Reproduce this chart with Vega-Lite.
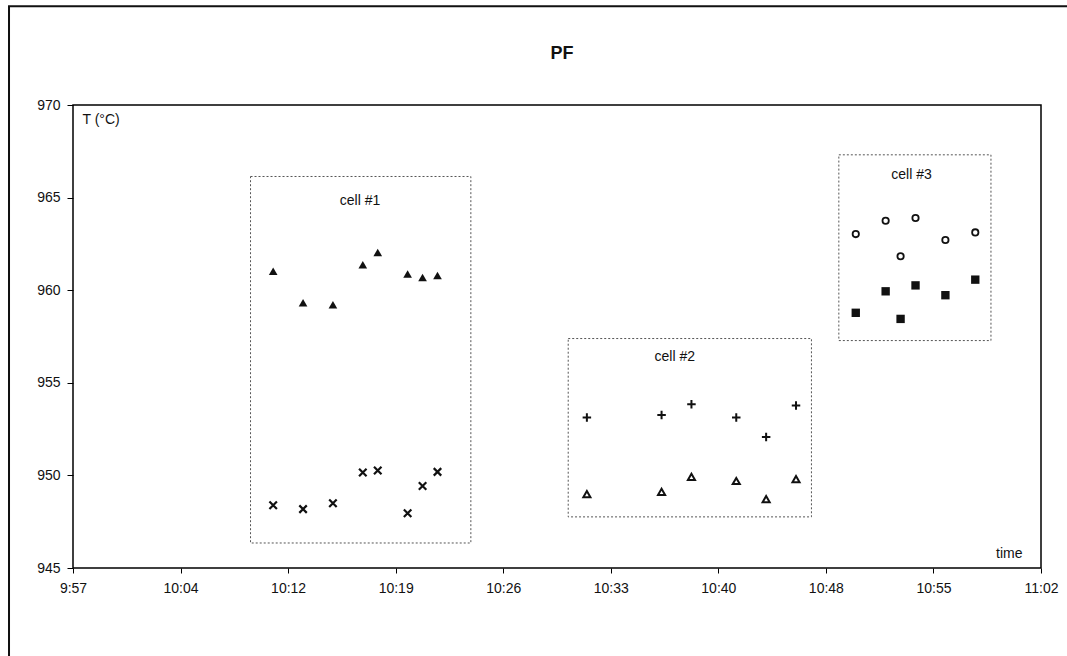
{
  "$schema": "https://vega.github.io/schema/vega-lite/v6.json",
  "width": 968,
  "height": 463,
  "autosize": {"type": "none"},
  "padding": {"left": 73, "top": 105, "right": 26, "bottom": 88},
  "background": "white",
  "title": {"text": "PF", "font": "Liberation Sans", "fontSize": 18, "fontWeight": "bold", "color": "#111", "offset": 0, "dy": 58, "dx": 5, "anchor": "middle", "frame": "group"},
  "config": {"view": {"stroke": "#000", "strokeWidth": 1.5}, "font": "Liberation Sans"},
  "datasets": {
    "points": [
      {"series": "a", "time": "2000-01-01T10:11:00Z", "T": 961.02},
      {"series": "a", "time": "2000-01-01T10:13:00Z", "T": 959.32},
      {"series": "a", "time": "2000-01-01T10:15:00Z", "T": 959.22},
      {"series": "a", "time": "2000-01-01T10:17:00Z", "T": 961.38},
      {"series": "a", "time": "2000-01-01T10:18:00Z", "T": 962.04},
      {"series": "a", "time": "2000-01-01T10:20:00Z", "T": 960.88},
      {"series": "a", "time": "2000-01-01T10:21:00Z", "T": 960.69},
      {"series": "a", "time": "2000-01-01T10:22:00Z", "T": 960.80},
      {"series": "b", "time": "2000-01-01T10:11:00Z", "T": 948.39},
      {"series": "b", "time": "2000-01-01T10:13:00Z", "T": 948.18},
      {"series": "b", "time": "2000-01-01T10:15:00Z", "T": 948.50},
      {"series": "b", "time": "2000-01-01T10:17:00Z", "T": 950.16},
      {"series": "b", "time": "2000-01-01T10:18:00Z", "T": 950.26},
      {"series": "b", "time": "2000-01-01T10:20:00Z", "T": 947.96},
      {"series": "b", "time": "2000-01-01T10:21:00Z", "T": 949.43},
      {"series": "b", "time": "2000-01-01T10:22:00Z", "T": 950.19},
      {"series": "c", "time": "2000-01-01T10:32:00Z", "T": 953.12},
      {"series": "c", "time": "2000-01-01T10:37:00Z", "T": 953.26},
      {"series": "c", "time": "2000-01-01T10:39:00Z", "T": 953.84},
      {"series": "c", "time": "2000-01-01T10:42:00Z", "T": 953.12},
      {"series": "c", "time": "2000-01-01T10:44:00Z", "T": 952.07},
      {"series": "c", "time": "2000-01-01T10:46:00Z", "T": 953.78},
      {"series": "d", "time": "2000-01-01T10:32:00Z", "T": 948.99},
      {"series": "d", "time": "2000-01-01T10:37:00Z", "T": 949.11},
      {"series": "d", "time": "2000-01-01T10:39:00Z", "T": 949.92},
      {"series": "d", "time": "2000-01-01T10:42:00Z", "T": 949.70},
      {"series": "d", "time": "2000-01-01T10:44:00Z", "T": 948.72},
      {"series": "d", "time": "2000-01-01T10:46:00Z", "T": 949.80},
      {"series": "e", "time": "2000-01-01T10:50:00Z", "T": 963.03},
      {"series": "e", "time": "2000-01-01T10:52:00Z", "T": 963.75},
      {"series": "e", "time": "2000-01-01T10:53:00Z", "T": 961.83},
      {"series": "e", "time": "2000-01-01T10:54:00Z", "T": 963.90},
      {"series": "e", "time": "2000-01-01T10:56:00Z", "T": 962.71},
      {"series": "e", "time": "2000-01-01T10:58:00Z", "T": 963.12},
      {"series": "f", "time": "2000-01-01T10:50:00Z", "T": 958.78},
      {"series": "f", "time": "2000-01-01T10:52:00Z", "T": 959.94},
      {"series": "f", "time": "2000-01-01T10:53:00Z", "T": 958.45},
      {"series": "f", "time": "2000-01-01T10:54:00Z", "T": 960.26},
      {"series": "f", "time": "2000-01-01T10:56:00Z", "T": 959.73},
      {"series": "f", "time": "2000-01-01T10:58:00Z", "T": 960.57}
    ],
    "boxes": [
      {"cell": "cell #1", "time": "2000-01-01T10:09:29Z", "time2": "2000-01-01T10:24:14Z", "T": 966.14, "T2": 946.35},
      {"cell": "cell #2", "time": "2000-01-01T10:30:45Z", "time2": "2000-01-01T10:47:02Z", "T": 957.39, "T2": 947.76},
      {"cell": "cell #3", "time": "2000-01-01T10:48:52Z", "time2": "2000-01-01T10:59:03Z", "T": 967.31, "T2": 957.28}
    ],
    "labels": [
      {"cell": "cell #1", "time": "2000-01-01T10:16:49Z", "T": 964.84},
      {"cell": "cell #2", "time": "2000-01-01T10:37:53Z", "T": 956.42},
      {"cell": "cell #3", "time": "2000-01-01T10:53:44Z", "T": 966.23}
    ],
    "frame": [
      {"time": "2000-01-01T09:53:19Z", "time2": "2000-01-01T11:07:00Z", "T": 975.33, "T2": 937.0}
    ]
  },
  "layer": [
    {
      "data": {"name": "frame"},
      "mark": {"type": "rect", "fill": null, "filled": false, "stroke": "#111", "strokeWidth": 2, "clip": false},
      "encoding": {
        "x": {"field": "time", "type": "temporal", "title": "time",
          "scale": {"type": "utc", "domain": [{"year": 2000, "month": 1, "date": 1, "hours": 9, "minutes": 57, "seconds": 36, "utc": true}, {"year": 2000, "month": 1, "date": 1, "hours": 11, "minutes": 2, "seconds": 24, "utc": true}]},
          "axis": {
            "values": [
              {"year": 2000, "month": 1, "date": 1, "hours": 9, "minutes": 57, "seconds": 36, "utc": true},
              {"year": 2000, "month": 1, "date": 1, "hours": 10, "minutes": 4, "seconds": 48, "utc": true},
              {"year": 2000, "month": 1, "date": 1, "hours": 10, "minutes": 12, "seconds": 0, "utc": true},
              {"year": 2000, "month": 1, "date": 1, "hours": 10, "minutes": 19, "seconds": 12, "utc": true},
              {"year": 2000, "month": 1, "date": 1, "hours": 10, "minutes": 26, "seconds": 24, "utc": true},
              {"year": 2000, "month": 1, "date": 1, "hours": 10, "minutes": 33, "seconds": 36, "utc": true},
              {"year": 2000, "month": 1, "date": 1, "hours": 10, "minutes": 40, "seconds": 48, "utc": true},
              {"year": 2000, "month": 1, "date": 1, "hours": 10, "minutes": 48, "seconds": 0, "utc": true},
              {"year": 2000, "month": 1, "date": 1, "hours": 10, "minutes": 55, "seconds": 12, "utc": true},
              {"year": 2000, "month": 1, "date": 1, "hours": 11, "minutes": 2, "seconds": 24, "utc": true}
            ],
            "format": "%-H:%M", "domain": false, "grid": false, "tickSize": 5, "tickColor": "#000",
            "labelFont": "Liberation Sans", "labelFontSize": 14, "labelColor": "#111", "labelPadding": 8,
            "labelOverlap": false, "labelFlush": false, "labelBound": false,
            "titleX": 949, "titleY": -15, "titleAlign": "right", "titleBaseline": "middle",
            "titleFont": "Liberation Sans", "titleFontSize": 14, "titleFontWeight": "normal", "titleColor": "#111"
          }
        },
        "x2": {"field": "time2"},
        "y": {"field": "T", "type": "quantitative", "title": "T (°C)",
          "scale": {"domain": [945, 970], "nice": false, "zero": false},
          "axis": {
            "values": [945, 950, 955, 960, 965, 970], "domain": false, "grid": false, "tickSize": 6, "tickColor": "#000",
            "labelFont": "Liberation Sans", "labelFontSize": 14, "labelColor": "#111", "labelPadding": 7,
            "labelOverlap": false, "labelFlush": false,
            "titleAngle": 0, "titleX": 9, "titleY": 14, "titleAlign": "left", "titleBaseline": "middle",
            "titleFont": "Liberation Sans", "titleFontSize": 14, "titleFontWeight": "normal", "titleColor": "#111"
          }
        },
        "y2": {"field": "T2"}
      }
    },
    {
      "data": {"name": "boxes"},
      "mark": {"type": "rect", "fill": null, "filled": false, "stroke": "#555", "strokeWidth": 1, "strokeDash": [2, 2]},
      "encoding": {
        "x": {"field": "time", "type": "temporal", "title": "time"},
        "x2": {"field": "time2"},
        "y": {"field": "T", "type": "quantitative", "title": "T (°C)"},
        "y2": {"field": "T2"}
      }
    },
    {
      "data": {"name": "labels"},
      "mark": {"type": "text", "font": "Liberation Sans", "fontSize": 14, "color": "#111", "align": "center", "baseline": "middle"},
      "encoding": {
        "x": {"field": "time", "type": "temporal", "title": "time"},
        "y": {"field": "T", "type": "quantitative", "title": "T (°C)"},
        "text": {"field": "cell"}
      }
    },
    {
      "data": {"name": "points"},
      "transform": [{"filter": "datum.series === 'a'"}],
      "mark": {"type": "point", "shape": "triangle-up", "filled": true, "size": 75, "color": "#111", "opacity": 1},
      "encoding": {
        "x": {"field": "time", "type": "temporal", "title": "time"},
        "y": {"field": "T", "type": "quantitative", "title": "T (°C)"}
      }
    },
    {
      "data": {"name": "points"},
      "transform": [{"filter": "datum.series === 'b'"}],
      "mark": {"type": "point", "shape": "M-1,-1L1,1M-1,1L1,-1", "filled": false, "size": 56, "color": "#111", "strokeWidth": 2.2, "opacity": 1},
      "encoding": {
        "x": {"field": "time", "type": "temporal", "title": "time"},
        "y": {"field": "T", "type": "quantitative", "title": "T (°C)"}
      }
    },
    {
      "data": {"name": "points"},
      "transform": [{"filter": "datum.series === 'c'"}],
      "mark": {"type": "point", "shape": "M-1,0L1,0M0,-1L0,1", "filled": false, "size": 72, "color": "#111", "strokeWidth": 2, "opacity": 1},
      "encoding": {
        "x": {"field": "time", "type": "temporal", "title": "time"},
        "y": {"field": "T", "type": "quantitative", "title": "T (°C)"}
      }
    },
    {
      "data": {"name": "points"},
      "transform": [{"filter": "datum.series === 'd'"}],
      "mark": {"type": "point", "shape": "triangle-up", "filled": false, "size": 50, "color": "#111", "strokeWidth": 2, "opacity": 1},
      "encoding": {
        "x": {"field": "time", "type": "temporal", "title": "time"},
        "y": {"field": "T", "type": "quantitative", "title": "T (°C)"}
      }
    },
    {
      "data": {"name": "points"},
      "transform": [{"filter": "datum.series === 'e'"}],
      "mark": {"type": "point", "shape": "circle", "filled": false, "size": 40, "color": "#111", "strokeWidth": 1.8, "opacity": 1},
      "encoding": {
        "x": {"field": "time", "type": "temporal", "title": "time"},
        "y": {"field": "T", "type": "quantitative", "title": "T (°C)"}
      }
    },
    {
      "data": {"name": "points"},
      "transform": [{"filter": "datum.series === 'f'"}],
      "mark": {"type": "point", "shape": "square", "filled": true, "size": 70, "color": "#111", "opacity": 1},
      "encoding": {
        "x": {"field": "time", "type": "temporal", "title": "time"},
        "y": {"field": "T", "type": "quantitative", "title": "T (°C)"}
      }
    }
  ]
}
